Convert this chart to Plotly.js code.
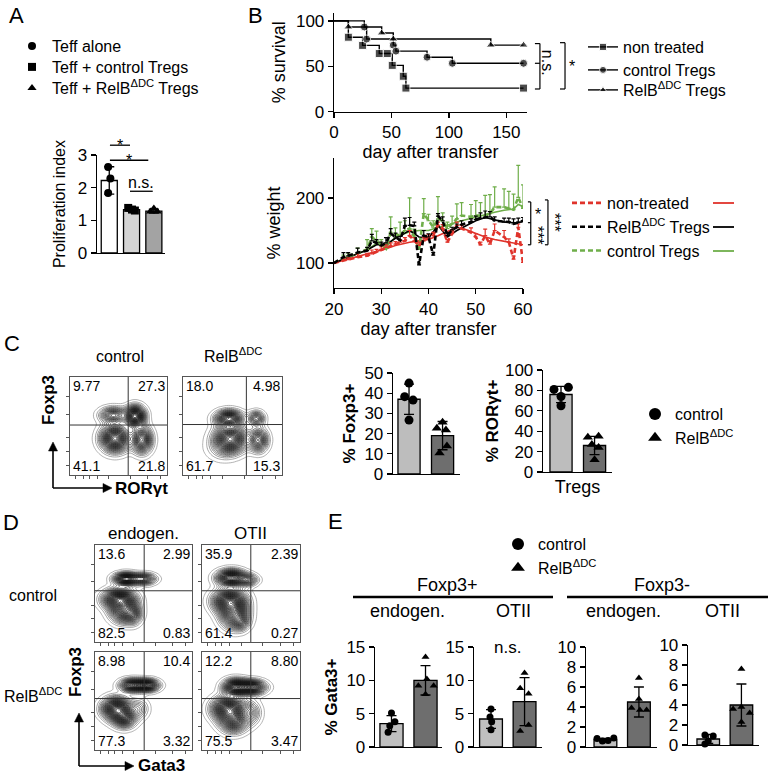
<!DOCTYPE html>
<html><head><meta charset="utf-8">
<script src="https://cdn.plot.ly/plotly-3.0.1.min.js"></script>
<style>body{margin:0;background:#fff}</style>
</head><body>
<div id="chart" style="width:770px;height:776px"></div>
<script>
// ================= DATA =================
// Panel A – proliferation index
const A_groups = ['Teff alone', 'Teff + control Tregs', 'Teff + RelB<sup>ΔDC</sup> Tregs'];
const A_mean = [2.22, 1.33, 1.28];
const A_sd = [0.42, 0.05, 0.06];
const A_pts_alone = [2.63, 2.28, 1.84];
const A_pts_ctrl = [1.38, 1.33, 1.30];
const A_pts_relb = [1.36, 1.27, 1.27];
const A_jit_alone = [-0.05, 0.05, -0.05];
const A_jit_ctrl = [-0.15, 0.02, 0.15];
const A_jit_relb = [0.0, -0.15, 0.15];
const A_sig_x0 = [0.03, 0.03, 0.93];
const A_sig_x1 = [0.93, 1.75, 1.95];
const A_sig_y = [3.3, 2.84, 1.89];
const A_sig_text = ['*', '*', 'n.s.'];

// Panel B – survival (Kaplan-Meier steps)
const S_nt_day = [0, 12.5, 24.9, 39.4, 46.4, 50.7, 60.3, 62.6, 165];
const S_nt_pct = [100, 82, 73, 64, 64, 51, 39, 26, 26];
const S_ctrl_day = [0, 26.4, 28.4, 51.6, 53.9, 81, 103, 165];
const S_ctrl_pct = [100, 93.3, 80, 73.3, 66.7, 60, 53.3, 53.3];
const S_relb_day = [0, 12.5, 41.5, 51.6, 136.5, 165];
const S_relb_pct = [100, 93.3, 86.7, 80, 73.3, 73.3];

// Panel B – weight
const Wt_days = [20,22,23,25,27,28,29,30,31,32,33,34,35,36,37,38,39,40,41,42,43,44,45,46,47,49,50,51,52,53,54,56,57,58,59,60];
const Wt_nt = [100,104,105,109,111,114,117,121,124,126,129,132,134,142,134,127,134,140,142,158,153,132,145,158,153,147,140,128,142,129,150,140,132,106,155,101];
const Wt_nt_err = [0,4,3,5,4,6,4,4,4,5,4,4,5,8,5,5,5,4,5,5,6,4,5,5,5,7,5,4,10,5,10,10,5,5,5,4];
const Wt_relb = [100,109,111,116,119,134,131,127,131,145,140,135,157,158,157,97,142,140,112,172,165,142,151,155,159,163,167,169,170,171,165,163,163,160,163,165];
const Wt_relb_err = [0,7,5,7,5,10,5,5,8,8,6,6,12,12,6,3,8,5,4,4,6,5,4,5,6,5,5,8,10,8,6,6,6,8,6,5];
const Wt_ctrl = [100,107,110,115,121,140,134,128,122,147,144,142,150,153,140,121,176,165,155,168,165,153,160,168,173,171,173,173,173,176,186,186,184,182,201,184];
const Wt_ctrl_err = [0,5,5,8,15,13,15,8,8,24,10,21,15,47,12,8,23,10,10,34,12,10,12,23,20,19,23,20,31,29,31,28,26,24,49,36];
const Wt_fit_days = [20,24,27,29,31,33,36,38,40,42,44,46,48,50,52,54,56,58,59,60];
const Wt_nt_fit = [100,108,113,118,122,127,132,134,136,142,148,155,151,145,140,136,133,130,129,128];
const Wt_relb_fit = [100,112,120,128,128,138,150,140,138,158,140,150,158,165,170,166,163,162,162,164];
const Wt_ctrl_fit = [100,112,120,130,124,140,148,150,150,155,158,163,167,170,174,178,181,183,190,187];

// Panel C – flow quadrants (UL, UR, LL, LR) and populations [cx, cy, sx, sy, weight]
const C_ctrl_quad = ['9.77', '27.3', '41.1', '21.8'];
const C_ctrl_gate = [60, 51];
const C_ctrl_pops = [[44.8,61,8,4.6,0.55],[67,60,6,6,1],[46.5,37.3,8.4,7.8,1],[74,36,6.1,7.8,0.75]];
const C_relb_quad = ['18.0', '4.98', '61.7', '15.3'];
const C_relb_gate = [64, 51.5];
const C_relb_pops = [[46.5,57.6,7.9,4.8,0.85],[74,57.6,4.7,4.3,0.45],[48,37,9.4,7.9,1],[76,35.6,5.6,6.8,0.6],[40,27,9.6,7.2,0.12]];

// Panel C – bar charts
const C_groups = ['control', 'RelB<sup>ΔDC</sup>'];
const C_foxp3_mean = [37, 19];
const C_foxp3_sd = [7.5, 7];
const C_foxp3_ctrl = [45, 38.3, 36.6, 26.7];
const C_foxp3_ctrl_jit = [0, -0.13, 0.12, 0];
const C_foxp3_relb = [25.6, 22.6, 21.8, 13.8, 10.4];
const C_foxp3_relb_jit = [0, -0.17, 0.1, 0.13, -0.09];
const C_ror_mean = [76, 26];
const C_ror_sd = [8, 9];
const C_ror_ctrl = [81, 83, 74, 65];
const C_ror_ctrl_jit = [-0.21, 0.22, 0, 0];
const C_ror_relb = [34, 35, 27, 24, 12];
const C_ror_relb_jit = [-0.2, 0.12, -0.08, 0.12, 0];

// Panel D – flow quadrants
const D_ctrl_endo_quad = ['13.6', '2.99', '82.5', '0.83'];
const D_ctrl_endo_gate = [50.7, 52.8];
const D_ctrl_endo_pops = [[32,65,7.2,3.6,0.9],[50,65,7.2,3.4,0.55],[25,44,9.6,6,1],[30,32,8.4,7.2,0.7],[40,28,4.8,6,0.25]];
const D_ctrl_otii_quad = ['35.9', '2.39', '61.4', '0.27'];
const D_ctrl_otii_gate = [49.8, 52.8];
const D_ctrl_otii_pops = [[30,66,8.4,4.8,1],[47,64,6,3.6,0.35],[28,42,9.6,7.2,1],[33,28,8.4,8.4,0.7],[40,20,4.8,4.8,0.2]];
const D_relb_endo_quad = ['8.98', '10.4', '77.3', '3.32'];
const D_relb_endo_gate = [50.7, 52.5];
const D_relb_endo_pops = [[38,66,7.2,3.8,0.7],[53,66,7.2,3.6,0.85],[22,42,8.4,6.6,1],[30,33,7.2,6,0.6],[45,42,6,6,0.2]];
const D_relb_otii_quad = ['12.2', '8.80', '75.5', '3.47'];
const D_relb_otii_gate = [49.8, 52.5];
const D_relb_otii_pops = [[34,64,7.2,4.8,0.9],[50,64,8.4,4.2,0.85],[27,42,9.6,7.2,1],[32,30,8.4,7.2,0.65],[50,38,6,7.2,0.25]];

// Panel E – % Gata3+
const E_fp_endo_mean = [3.5, 10.0];
const E_fp_endo_sd = [1.2, 2.2];
const E_fp_endo_ctrl = [5.1, 3.8, 3.2, 2.2];
const E_fp_endo_ctrl_jit = [0, 0.1, -0.05, -0.1];
const E_fp_endo_relb = [13.5, 10.2, 9.2, 9.2, 7.9];
const E_fp_endo_relb_jit = [0, 0.04, -0.21, 0.24, 0];
const E_fp_otii_mean = [4.2, 6.8];
const E_fp_otii_sd = [1.4, 3.6];
const E_fp_otii_ctrl = [5.7, 4.5, 3.8, 2.6];
const E_fp_otii_ctrl_jit = [0, -0.03, 0.02, 0];
const E_fp_otii_relb = [11.1, 8.8, 8.0, 3.3, 2.4];
const E_fp_otii_relb_jit = [0, -0.13, 0.12, 0.12, -0.13];
const E_fm_endo_mean = [0.75, 4.5];
const E_fm_endo_sd = [0.12, 1.5];
const E_fm_endo_ctrl = [0.85, 0.6, 0.65, 0.9];
const E_fm_endo_ctrl_jit = [-0.25, -0.09, 0.08, 0.25];
const E_fm_endo_relb = [6.9, 4.8, 3.9, 3.7, 3.7];
const E_fm_endo_relb_jit = [0, 0, -0.22, 0.03, 0.23];
const E_fm_otii_mean = [0.6, 4.0];
const E_fm_otii_sd = [0.45, 2.1];
const E_fm_otii_ctrl = [1.0, 0.9, 0.4, 0.1];
const E_fm_otii_ctrl_jit = [-0.1, 0.15, 0, -0.1];
const E_fm_otii_relb = [7.6, 3.8, 3.6, 3.2, 2.3];
const E_fm_otii_relb_jit = [0, 0, -0.25, 0.25, 0];

// ================= LAYOUT HELPERS =================
const W = 770, H = 776;
const FONT = 'Liberation Sans, Arial, Helvetica, sans-serif';
const AX = {
  A:  {n:'',   x:[97,165],  y:[155,253],   xr:[-0.55,2.5],  yr:[0,3]},
  S:  {n:'2',  x:[334,527], y:[12.7,111.7], xr:[0,168],     yr:[0,109]},
  Wt: {n:'3',  x:[334,523], y:[158,288],   xr:[20,60],      yr:[61.5,261.5]},
  Cc: {n:'4',  x:[70,167],  y:[377,475],   xr:[0,100],      yr:[0,100]},
  Cr: {n:'5',  x:[183,282], y:[377,475],   xr:[0,100],      yr:[0,100]},
  Cf: {n:'6',  x:[393,460], y:[373,474],   xr:[-0.478,1.52], yr:[0,50]},
  Co: {n:'7',  x:[543,612], y:[370,472],   xr:[-0.537,1.52], yr:[0,100]},
  D1: {n:'8',  x:[95,192],  y:[545,642],   xr:[0,100],      yr:[0,100]},
  D2: {n:'9',  x:[202,300], y:[545,642],   xr:[0,100],      yr:[0,100]},
  D3: {n:'10', x:[95,192],  y:[652,750],   xr:[0,100],      yr:[0,100]},
  D4: {n:'11', x:[202,300], y:[652,750],   xr:[0,100],      yr:[0,100]},
  E1: {n:'12', x:[375,442], y:[647,747],   xr:[-0.485,1.485], yr:[0,15]},
  E2: {n:'13', x:[474,542], y:[647,747],   xr:[-0.507,1.52], yr:[0,15]},
  E3: {n:'14', x:[586,657], y:[647,747],   xr:[-0.58,1.54],  yr:[0,10]},
  E4: {n:'15', x:[688,759], y:[645,745],   xr:[-0.61,1.53],  yr:[0,10]}
};
const toDom = (r, v) => (v - r[0]) / (r[1] - r[0]);
const traces = [], shapes = [], annotations = [];
const layout = {
  width: W, height: H, margin: {l:0, r:0, t:0, b:0},
  paper_bgcolor: '#fff', plot_bgcolor: 'rgba(0,0,0,0)',
  font: {family: FONT, color: '#000', size: 16},
  hovermode: false, showlegend: true
};
const baseAxis = {showline:true, linecolor:'#000', linewidth:1.3, ticks:'outside', ticklen:5, tickwidth:1.3,
  tickcolor:'#000', showgrid:false, zeroline:false, fixedrange:true, automargin:false,
  tickfont:{family:FONT, size:17, color:'#000'}};
function ids(spec){ return {x:'x'+spec.n, y:'y'+spec.n}; }
function makeAxes(spec, xopt, yopt){
  layout['xaxis'+spec.n] = Object.assign({}, baseAxis, {domain:[spec.x[0]/W, spec.x[1]/W], range:spec.xr, anchor:'y'+spec.n}, xopt || {});
  layout['yaxis'+spec.n] = Object.assign({}, baseAxis, {domain:[1-spec.y[1]/H, 1-spec.y[0]/H], range:spec.yr, anchor:'x'+spec.n}, yopt || {});
}
const barX = {ticks:'', showticklabels:false};
function ann(o){ annotations.push(Object.assign({showarrow:false, xanchor:'center', yanchor:'middle',
  font:{family:FONT, size:16, color:'#000'}}, o)); }
function pxX(v){ return v/W; } function pxY(v){ return 1-v/H; }
function arrowShape(x0, y0, x1, y1){
  const len = Math.hypot(x1-x0, y1-y0), ux = (x1-x0)/len, uy = (y1-y0)/len, hl = 9, hw = 4.5;
  const bx = x1 - ux*hl, by = y1 - uy*hl;
  shapes.push({type:'line', xref:'paper', yref:'paper', x0:pxX(x0), y0:pxY(y0), x1:pxX(bx), y1:pxY(by), line:{color:'#000', width:1.6}});
  const p = [[x1, y1], [bx - uy*hw, by + ux*hw], [bx + uy*hw, by - ux*hw]];
  shapes.push({type:'path', xref:'paper', yref:'paper', fillcolor:'#000', line:{color:'#000', width:0.5},
    path:'M' + p.map(q => pxX(q[0]) + ',' + pxY(q[1])).join('L') + 'Z'});
}

function addBars(spec, means, sds, colors, width){
  const id = ids(spec);
  traces.push({type:'bar', x:means.map((_, i) => i), y:means, width:width,
    marker:{color:colors, line:{color:'#000', width:1.3}},
    error_y:{type:'data', array:sds, color:'#000', thickness:1.3, width:5},
    xaxis:id.x, yaxis:id.y, showlegend:false, hoverinfo:'skip'});
}
function addPts(spec, gi, vals, jit, symbol, size, name, legendId, show){
  const id = ids(spec);
  traces.push({type:'scatter', mode:'markers', x:vals.map((_, k) => gi + jit[k]), y:vals,
    marker:{symbol:symbol, size:size, color:'#000'}, name:name, legend:legendId, showlegend:show,
    xaxis:id.x, yaxis:id.y, cliponaxis:false, hoverinfo:'skip'});
}
const FLOW_GRID = Array.from({length:51}, (_, i) => i*2);
const FLOW_TICKS_X = [6, 14, 20, 28, 40, 62, 80, 93];
const FLOW_TICKS_Y = [10, 24, 38, 62, 80];
function addFlow(spec, pops, gate, quad){
  const id = ids(spec);
  const z = FLOW_GRID.map(gy => FLOW_GRID.map(gx => pops.reduce((s, p) =>
    s + p[4]*Math.exp(-((gx-p[0])*(gx-p[0])/(2*p[2]*p[2]) + (gy-p[1])*(gy-p[1])/(2*p[3]*p[3]))), 0)));
  traces.push({type:'contour', x:FLOW_GRID, y:FLOW_GRID, z:z, xaxis:id.x, yaxis:id.y, showscale:false,
    hoverinfo:'skip', showlegend:false,
    contours:{coloring:'lines', start:0.02, end:1.4, size:0.034},
    line:{width:0.65, smoothing:1},
    colorscale:[[0,'#8a8a8a'],[0.08,'#3c3c3c'],[0.3,'#141414'],[1,'#000']]});
  makeAxes(spec,
    {mirror:true, linecolor:'#555', linewidth:1, ticks:'outside', ticklen:3, tickwidth:1, tickcolor:'#555', tickvals:FLOW_TICKS_X, showticklabels:false},
    {mirror:true, linecolor:'#555', linewidth:1, ticks:'outside', ticklen:3, tickwidth:1, tickcolor:'#555', tickvals:FLOW_TICKS_Y, showticklabels:false});
  shapes.push({type:'line', xref:id.x, yref:id.y, x0:gate[0], x1:gate[0], y0:0, y1:100, line:{color:'#333', width:1}});
  shapes.push({type:'line', xref:id.x, yref:id.y, x0:0, x1:100, y0:gate[1], y1:gate[1], line:{color:'#333', width:1}});
  const corner = [[0.02,0.995,'left','top'],[0.985,0.995,'right','top'],[0.02,0.0,'left','bottom'],[0.985,0.0,'right','bottom']];
  quad.forEach((t, i) => ann({xref:id.x+' domain', yref:id.y+' domain', x:corner[i][0], y:corner[i][1],
    xanchor:corner[i][2], yanchor:corner[i][3], text:t, font:{family:FONT, size:14, color:'#000'}, borderpad:0}));
}
const legBase = {bgcolor:'rgba(0,0,0,0)', borderwidth:0, font:{family:FONT, size:16, color:'#000'},
  xanchor:'left', yanchor:'top', itemclick:false, itemdoubleclick:false, tracegroupgap:0, traceorder:'normal'};

// ================= PANEL A =================
makeAxes(AX.A, barX, {tickvals:[0,1,2,3], title:{text:'Proliferation index', font:{family:FONT, size:16}, standoff:8}});
addBars(AX.A, A_mean, A_sd, ['#ffffff','#d4d4d4','#a3a3a3'], 0.72);
addPts(AX.A, 0, A_pts_alone, A_jit_alone, 'circle', 8, A_groups[0], 'legend', true);
addPts(AX.A, 1, A_pts_ctrl, A_jit_ctrl, 'square', 8, A_groups[1], 'legend7', true);
addPts(AX.A, 2, A_pts_relb, A_jit_relb, 'triangle-up', 8, A_groups[2], 'legend8', true);
A_sig_y.forEach((yv, i) => {
  const x0 = toDom(AX.A.xr, A_sig_x0[i]), x1 = toDom(AX.A.xr, A_sig_x1[i]), yy = toDom(AX.A.yr, yv);
  shapes.push({type:'line', xref:'x domain', yref:'y domain', x0:x0, x1:x1, y0:yy, y1:yy, line:{color:'#000', width:1.3}});
  ann({xref:'x domain', yref:'y domain', x:(x0+x1)/2, y:yy,
    yanchor: A_sig_text[i] === '*' ? 'middle' : 'bottom', yshift: A_sig_text[i] === '*' ? 0 : -2,
    text:A_sig_text[i], font:{family:FONT, size:16}});
});
layout.legend = Object.assign({}, legBase, {x:pxX(12), y:pxY(29)});
layout.legend7 = Object.assign({}, legBase, {x:pxX(12), y:pxY(50)});
layout.legend8 = Object.assign({}, legBase, {x:pxX(12), y:pxY(71)});

// ================= PANEL B: survival =================
makeAxes(AX.S, {tickvals:[0,50,100,150], title:{text:'day after transfer', font:{family:FONT, size:18}, standoff:2}},
  {tickvals:[0,50,100], title:{text:'% survival', font:{family:FONT, size:18}, standoff:5}});
function survTrace(days, pct, symbol, name, leg){
  return {type:'scatter', mode:'lines+markers', x:days, y:pct, line:{shape:'hv', color:'#000', width:1.4},
    marker:{symbol:symbol, size:days.map((_, i) => i === 0 ? 0 : 8), color:'#000'},
    name:name, legend:leg, xaxis:'x2', yaxis:'y2', cliponaxis:false, hoverinfo:'skip'};
}
traces.push(survTrace(S_nt_day, S_nt_pct, 'square', 'non treated', 'legend2'));
traces.push(survTrace(S_ctrl_day, S_ctrl_pct, 'circle', 'control Tregs', 'legend9'));
traces.push(survTrace(S_relb_day, S_relb_pct, 'triangle-up', 'RelB<sup>ΔDC</sup> Tregs', 'legend10'));
layout.legend2 = Object.assign({}, legBase, {x:pxX(583), y:pxY(30)});
layout.legend9 = Object.assign({}, legBase, {x:pxX(583), y:pxY(53)});
layout.legend10 = Object.assign({}, legBase, {x:pxX(583), y:pxY(73)});
function bracket(xref, yref, yr, xv, xt, yvals){
  const ys = yvals.map(v => toDom(yr, v));
  shapes.push({type:'line', xref:xref, yref:yref, x0:xv, x1:xv, y0:ys[0], y1:ys[ys.length-1], line:{color:'#000', width:1.2}});
  ys.forEach(y => shapes.push({type:'line', xref:xref, yref:yref, x0:xt, x1:xv, y0:y, y1:y, line:{color:'#000', width:1.2}}));
}
bracket('x2 domain', 'y2 domain', AX.S.yr, 1.067, 1.041, [75, 53.3, 25]);
bracket('x2 domain', 'y2 domain', AX.S.yr, 1.197, 1.171, [76, 25]);
ann({xref:'x2 domain', yref:'y2 domain', x:1.108, y:toDom(AX.S.yr, 54), text:'n.s.', textangle:90, font:{family:FONT, size:16}});
ann({xref:'x2 domain', yref:'y2 domain', x:1.233, y:toDom(AX.S.yr, 50), text:'*', font:{family:FONT, size:16}});

// ================= PANEL B: weight =================
makeAxes(AX.Wt, {tickvals:[20,30,40,50,60], title:{text:'day after transfer', font:{family:FONT, size:18}, standoff:1}},
  {tickvals:[100,200], title:{text:'% weight', font:{family:FONT, size:18}, standoff:10}});
const RED = '#e0332b', GREEN = '#6fae4a', BLACK = '#000000';
const zeros = Wt_days.map(() => 0);
function wtFit(y, color){
  return {type:'scatter', mode:'lines', x:Wt_fit_days, y:y, line:{color:color, width:1.6},
    showlegend:false, xaxis:'x3', yaxis:'y3', hoverinfo:'skip'};
}
function wtMean(y, err, color, name, rank){
  return {type:'scatter', mode:'lines', x:Wt_days, y:y, line:{color:color, width:2.6, dash:'5px,3px'},
    error_y:{type:'data', symmetric:false, array:err, arrayminus:zeros, color:color, thickness:1.2, width:2},
    name:name, legend:'legend3', legendrank:rank, xaxis:'x3', yaxis:'y3', hoverinfo:'skip'};
}
traces.push(wtFit(Wt_ctrl_fit, GREEN));
traces.push(wtFit(Wt_nt_fit, RED));
traces.push(wtFit(Wt_relb_fit, BLACK));
traces.push(wtMean(Wt_ctrl, Wt_ctrl_err, GREEN, 'control Tregs', 3));
traces.push(wtMean(Wt_nt, Wt_nt_err, RED, 'non-treated', 1));
traces.push(wtMean(Wt_relb, Wt_relb_err, BLACK, 'RelB<sup>ΔDC</sup> Tregs', 2));
layout.legend3 = Object.assign({}, legBase, {x:pxX(567), y:pxY(186)});
[[RED, 203], [BLACK, 227], [GREEN, 251]].forEach(k => shapes.push({type:'line', xref:'paper', yref:'paper',
  x0:pxX(713), x1:pxX(734), y0:pxY(k[1]), y1:pxY(k[1]), line:{color:k[0], width:1.8}}));
bracket('x3 domain', 'y3 domain', AX.Wt.yr, 1.041, 1.026, [194, 162, 128]);
bracket('x3 domain', 'y3 domain', AX.Wt.yr, 1.132, 1.116, [197, 128]);
ann({xref:'x3 domain', yref:'y3 domain', x:1.08, y:toDom(AX.Wt.yr, 174), text:'*', font:{family:FONT, size:16}});
ann({xref:'x3 domain', yref:'y3 domain', x:1.08, y:toDom(AX.Wt.yr, 143), text:'***', textangle:90, font:{family:FONT, size:16}});
ann({xref:'x3 domain', yref:'y3 domain', x:1.168, y:toDom(AX.Wt.yr, 162), text:'***', textangle:90, font:{family:FONT, size:16}});

// ================= PANEL C =================
addFlow(AX.Cc, C_ctrl_pops, C_ctrl_gate, C_ctrl_quad);
addFlow(AX.Cr, C_relb_pops, C_relb_gate, C_relb_quad);
ann({xref:'paper', yref:'paper', x:pxX(120), y:pxY(357), text:'control', font:{family:FONT, size:16}});
ann({xref:'paper', yref:'paper', x:pxX(233), y:pxY(355), text:'RelB<sup>ΔDC</sup>', font:{family:FONT, size:16}});
arrowShape(53, 488, 53, 442);
arrowShape(53, 488, 112, 488);
ann({xref:'paper', yref:'paper', x:pxX(49), y:pxY(400), text:'<b>Foxp3</b>', textangle:-90, font:{family:FONT, size:17}});
ann({xref:'paper', yref:'paper', x:pxX(113), y:pxY(488), xanchor:'left', text:'<b>RORγt</b>', font:{family:FONT, size:17}});

makeAxes(AX.Cf, barX, {tickvals:[0,10,20,30,40,50], title:{text:'<b>% Foxp3+</b>', font:{family:FONT, size:17}, standoff:4}});
addBars(AX.Cf, C_foxp3_mean, C_foxp3_sd, ['#bdbdbd','#6e6e6e'], 0.66);
addPts(AX.Cf, 0, C_foxp3_ctrl, C_foxp3_ctrl_jit, 'circle', 9, C_groups[0], 'legend5', true);
addPts(AX.Cf, 1, C_foxp3_relb, C_foxp3_relb_jit, 'triangle-up', 9, C_groups[1], 'legend5', true);
ann({xref:'x6', yref:'y6', x:0.5, y:52, text:'**', font:{family:FONT, size:17}});

makeAxes(AX.Co, Object.assign({}, barX, {title:{text:'Tregs', font:{family:FONT, size:18}, standoff:8}}),
  {tickvals:[0,20,40,60,80,100], title:{text:'<b>% RORγt+</b>', font:{family:FONT, size:17}, standoff:2}});
addBars(AX.Co, C_ror_mean, C_ror_sd, ['#bdbdbd','#6e6e6e'], 0.66);
addPts(AX.Co, 0, C_ror_ctrl, C_ror_ctrl_jit, 'circle', 9, C_groups[0], 'legend5', false);
addPts(AX.Co, 1, C_ror_relb, C_ror_relb_jit, 'triangle-up', 9, C_groups[1], 'legend5', false);
ann({xref:'x7', yref:'y7', x:0.5, y:104, text:'****', font:{family:FONT, size:17}});
layout.legend5 = Object.assign({}, legBase, {x:pxX(635), y:pxY(397), itemsizing:'constant'});

// ================= PANEL D =================
addFlow(AX.D1, D_ctrl_endo_pops, D_ctrl_endo_gate, D_ctrl_endo_quad);
addFlow(AX.D2, D_ctrl_otii_pops, D_ctrl_otii_gate, D_ctrl_otii_quad);
addFlow(AX.D3, D_relb_endo_pops, D_relb_endo_gate, D_relb_endo_quad);
addFlow(AX.D4, D_relb_otii_pops, D_relb_otii_gate, D_relb_otii_quad);
ann({xref:'paper', yref:'paper', x:pxX(143), y:pxY(533), text:'endogen.', font:{family:FONT, size:17}});
ann({xref:'paper', yref:'paper', x:pxX(250), y:pxY(533), text:'OTII', font:{family:FONT, size:17}});
ann({xref:'paper', yref:'paper', x:pxX(33), y:pxY(595), text:'control', font:{family:FONT, size:16}});
ann({xref:'paper', yref:'paper', x:pxX(33), y:pxY(695), text:'RelB<sup>ΔDC</sup>', font:{family:FONT, size:16}});
arrowShape(79, 766, 79, 713);
arrowShape(79, 766, 134, 766);
ann({xref:'paper', yref:'paper', x:pxX(75), y:pxY(672), text:'<b>Foxp3</b>', textangle:-90, font:{family:FONT, size:17}});
ann({xref:'paper', yref:'paper', x:pxX(136), y:pxY(765), xanchor:'left', text:'<b>Gata3</b>', font:{family:FONT, size:17}});

// ================= PANEL E =================
const E_colors = ['#bfbfbf','#6e6e6e'];
function ePanel(spec, mean, sd, ctrl, cj, relb, rj, ticks, sig, sigY, first){
  makeAxes(spec, barX, Object.assign({tickvals:ticks},
    first ? {title:{text:'<b>% Gata3+</b>', font:{family:FONT, size:17}, standoff:4}} : {}));
  addBars(spec, mean, sd, E_colors, 0.68);
  addPts(spec, 0, ctrl, cj, 'circle', 7, 'control', 'legend6', first);
  addPts(spec, 1, relb, rj, 'triangle-up', 7, 'RelB<sup>ΔDC</sup>', 'legend6', first);
  const id = ids(spec);
  ann({xref:id.x, yref:id.y, x:0.5, y:sigY, text:sig, font:{family:FONT, size:17}});
}
ePanel(AX.E1, E_fp_endo_mean, E_fp_endo_sd, E_fp_endo_ctrl, E_fp_endo_ctrl_jit, E_fp_endo_relb, E_fp_endo_relb_jit, [0,5,10,15], '**', 15.2, true);
ePanel(AX.E2, E_fp_otii_mean, E_fp_otii_sd, E_fp_otii_ctrl, E_fp_otii_ctrl_jit, E_fp_otii_relb, E_fp_otii_relb_jit, [0,5,10,15], 'n.s.', 15.0, false);
ePanel(AX.E3, E_fm_endo_mean, E_fm_endo_sd, E_fm_endo_ctrl, E_fm_endo_ctrl_jit, E_fm_endo_relb, E_fm_endo_relb_jit, [0,2,4,6,8,10], '**', 10.2, false);
ePanel(AX.E4, E_fm_otii_mean, E_fm_otii_sd, E_fm_otii_ctrl, E_fm_otii_ctrl_jit, E_fm_otii_relb, E_fm_otii_relb_jit, [0,2,4,6,8,10], '*', 10.4, false);
layout.legend6 = Object.assign({}, legBase, {x:pxX(498), y:pxY(527), itemsizing:'constant'});
ann({xref:'paper', yref:'paper', x:pxX(447), y:pxY(585), text:'Foxp3+', font:{family:FONT, size:18}});
ann({xref:'paper', yref:'paper', x:pxX(662), y:pxY(585), text:'Foxp3-', font:{family:FONT, size:18}});
shapes.push({type:'line', xref:'paper', yref:'paper', x0:pxX(353), x1:pxX(553), y0:pxY(597), y1:pxY(597), line:{color:'#000', width:2.5}});
shapes.push({type:'line', xref:'paper', yref:'paper', x0:pxX(567), x1:pxX(768), y0:pxY(597), y1:pxY(597), line:{color:'#000', width:2.5}});
ann({xref:'paper', yref:'paper', x:pxX(408), y:pxY(611), text:'endogen.', font:{family:FONT, size:18}});
ann({xref:'paper', yref:'paper', x:pxX(513), y:pxY(611), text:'OTII', font:{family:FONT, size:18}});
ann({xref:'paper', yref:'paper', x:pxX(623), y:pxY(611), text:'endogen.', font:{family:FONT, size:18}});
ann({xref:'paper', yref:'paper', x:pxX(722), y:pxY(611), text:'OTII', font:{family:FONT, size:18}});

// ================= PANEL LETTERS =================
[['A',16,15],['B',255,15],['C',12,343],['D',11,522],['E',335,521]].forEach(l =>
  ann({xref:'paper', yref:'paper', x:pxX(l[1]), y:pxY(l[2]), text:l[0], font:{family:FONT, size:22}}));

layout.shapes = shapes;
layout.annotations = annotations;
Plotly.newPlot('chart', traces, layout, {displayModeBar:false, staticPlot:true});
</script>
</body></html>
